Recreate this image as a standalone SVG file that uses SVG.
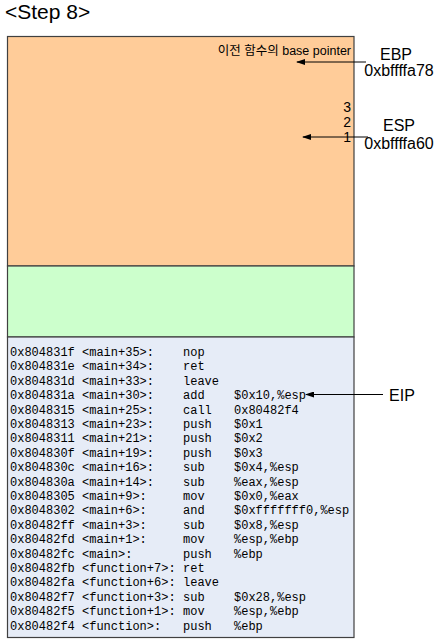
<svg xmlns="http://www.w3.org/2000/svg" width="437" height="641" viewBox="0 0 437 641">
<style>
.title{font-family:"Liberation Sans",Arial,sans-serif;font-size:21px;fill:#000}
.lbl{font-family:"Liberation Sans",Arial,sans-serif;font-size:16px;fill:#000}
.num{font-family:"Liberation Sans",Arial,sans-serif;font-size:14px;fill:#000}
.ko{font-family:"Liberation Sans","Noto Sans CJK KR",sans-serif;font-size:12.5px;fill:#000}
.code{font-family:"Liberation Mono","Courier New",monospace;font-size:12px;fill:#000}
.box{stroke:#404040;stroke-width:1.2}
.arr{stroke:#000;stroke-width:1;fill:none;marker-end:url(#ah)}
</style>
<defs>
<marker id="ah" markerWidth="9" markerHeight="6" refX="8" refY="3" orient="auto" markerUnits="userSpaceOnUse">
<path d="M0,0 L9,3 L0,6 Z" fill="#000"/>
</marker>
</defs>
<rect width="437" height="641" fill="#fff"/>
<text class="title" x="5" y="19">&lt;Step 8&gt;</text>

<g id="stack-orange">
<rect class="box" x="7.5" y="36.5" width="346.5" height="229.5" fill="#FFCC99"/>
<text class="ko" x="351" y="55" text-anchor="end">이전 함수의 base pointer</text>
<text class="num" x="351" y="111.5" text-anchor="end">3</text>
<text class="num" x="351" y="126.5" text-anchor="end">2</text>
<text class="num" x="351" y="141.5" text-anchor="end">1</text>
</g>
<g id="stack-green">
<rect class="box" x="7.5" y="266" width="346.5" height="71" fill="#CCFFCC"/>
</g>
<g id="code">
<rect class="box" x="7.5" y="337" width="346.5" height="300.5" fill="#E6ECF7"/>
<g class="code">
<text y="356"><tspan x="10">0x804831f</tspan><tspan x="82">&lt;main+35&gt;:</tspan><tspan x="183">nop</tspan></text>
<text y="370.4"><tspan x="10">0x804831e</tspan><tspan x="82">&lt;main+34&gt;:</tspan><tspan x="183">ret</tspan></text>
<text y="384.8"><tspan x="10">0x804831d</tspan><tspan x="82">&lt;main+33&gt;:</tspan><tspan x="183">leave</tspan></text>
<text y="399.2"><tspan x="10">0x804831a</tspan><tspan x="82">&lt;main+30&gt;:</tspan><tspan x="183">add</tspan><tspan x="234">$0x10,%esp</tspan></text>
<text y="413.6"><tspan x="10">0x8048315</tspan><tspan x="82">&lt;main+25&gt;:</tspan><tspan x="183">call</tspan><tspan x="234">0x80482f4</tspan></text>
<text y="428"><tspan x="10">0x8048313</tspan><tspan x="82">&lt;main+23&gt;:</tspan><tspan x="183">push</tspan><tspan x="234">$0x1</tspan></text>
<text y="442.4"><tspan x="10">0x8048311</tspan><tspan x="82">&lt;main+21&gt;:</tspan><tspan x="183">push</tspan><tspan x="234">$0x2</tspan></text>
<text y="456.8"><tspan x="10">0x804830f</tspan><tspan x="82">&lt;main+19&gt;:</tspan><tspan x="183">push</tspan><tspan x="234">$0x3</tspan></text>
<text y="471.2"><tspan x="10">0x804830c</tspan><tspan x="82">&lt;main+16&gt;:</tspan><tspan x="183">sub</tspan><tspan x="234">$0x4,%esp</tspan></text>
<text y="485.6"><tspan x="10">0x804830a</tspan><tspan x="82">&lt;main+14&gt;:</tspan><tspan x="183">sub</tspan><tspan x="234">%eax,%esp</tspan></text>
<text y="500"><tspan x="10">0x8048305</tspan><tspan x="82">&lt;main+9&gt;:</tspan><tspan x="183">mov</tspan><tspan x="234">$0x0,%eax</tspan></text>
<text y="514.4"><tspan x="10">0x8048302</tspan><tspan x="82">&lt;main+6&gt;:</tspan><tspan x="183">and</tspan><tspan x="234">$0xfffffff0,%esp</tspan></text>
<text y="528.8"><tspan x="10">0x80482ff</tspan><tspan x="82">&lt;main+3&gt;:</tspan><tspan x="183">sub</tspan><tspan x="234">$0x8,%esp</tspan></text>
<text y="543.2"><tspan x="10">0x80482fd</tspan><tspan x="82">&lt;main+1&gt;:</tspan><tspan x="183">mov</tspan><tspan x="234">%esp,%ebp</tspan></text>
<text y="557.6"><tspan x="10">0x80482fc</tspan><tspan x="82">&lt;main&gt;:</tspan><tspan x="183">push</tspan><tspan x="234">%ebp</tspan></text>
<text y="572"><tspan x="10">0x80482fb</tspan><tspan x="82">&lt;function+7&gt;:</tspan><tspan x="183">ret</tspan></text>
<text y="586.4"><tspan x="10">0x80482fa</tspan><tspan x="82">&lt;function+6&gt;:</tspan><tspan x="183">leave</tspan></text>
<text y="600.8"><tspan x="10">0x80482f7</tspan><tspan x="82">&lt;function+3&gt;:</tspan><tspan x="183">sub</tspan><tspan x="234">$0x28,%esp</tspan></text>
<text y="615.2"><tspan x="10">0x80482f5</tspan><tspan x="82">&lt;function+1&gt;:</tspan><tspan x="183">mov</tspan><tspan x="234">%esp,%ebp</tspan></text>
<text y="629.6"><tspan x="10">0x80482f4</tspan><tspan x="82">&lt;function&gt;:</tspan><tspan x="183">push</tspan><tspan x="234">%ebp</tspan></text>
</g>
</g>

<g id="ebp">
<text class="lbl" x="396" y="60" text-anchor="middle">EBP</text>
<text class="lbl" x="399" y="76" text-anchor="middle">0xbffffa78</text>
</g>
<g id="esp">
<text class="lbl" x="399" y="131" text-anchor="middle">ESP</text>
<text class="lbl" x="399" y="149" text-anchor="middle">0xbffffa60</text>
</g>
<g id="eip">
<text class="lbl" x="402" y="401" text-anchor="middle">EIP</text>
</g>

<g id="connectors">
<line class="arr" x1="366" y1="62" x2="297" y2="62"/>
<line class="arr" x1="368" y1="137" x2="303" y2="137"/>
<line class="arr" x1="383" y1="394.5" x2="306" y2="394.5"/>
</g>
</svg>
